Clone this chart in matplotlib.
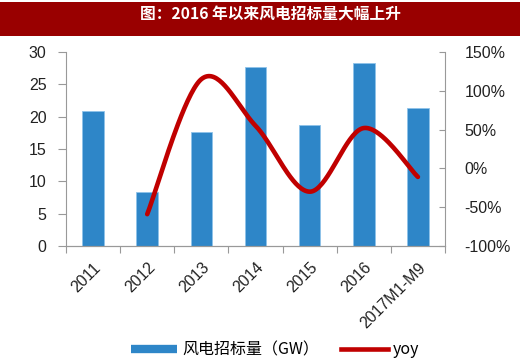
import numpy as np
import matplotlib
matplotlib.use("Agg")
import matplotlib.pyplot as plt
from matplotlib.lines import Line2D
from matplotlib.patches import Rectangle
from matplotlib.ticker import FuncFormatter, FixedLocator

plt.rcParams['font.family'] = ['Liberation Sans', 'Noto Sans CJK SC', 'DejaVu Sans']

categories = ["2011", "2012", "2013", "2014", "2015", "2016", "2017M1-M9"]
bid_gw = [20.9, 8.3, 17.6, 27.7, 18.7, 28.3, 21.3]
yoy_pct = [None, -59, 115, 55, -30, 52, -11]
left_ticks = [0, 5, 10, 15, 20, 25, 30]
right_ticks = [-100, -50, 0, 50, 100, 150]

title = "图：2016 年以来风电招标量大幅上升"
bar_label = "风电招标量（GW）"
line_label = "yoy"

W, H = 520, 363
fig = plt.figure(figsize=(W / 100, H / 100), dpi=100)
fig.patch.set_facecolor("white")

# title bar
fig.patches.append(Rectangle((0, 1 - 36 / H), 1, 34 / H, transform=fig.transFigure,
                             facecolor="#990000", edgecolor="none", zorder=0))
fig.text(270 / W, 1 - 15 / H, title, color="white", fontsize=11.3, fontweight="bold",
         ha="center", va="center", family=['Noto Sans CJK SC', 'DejaVu Sans'])

ax = fig.add_axes([66 / W, 1 - 246 / H, (445 - 66) / W, (246 - 52) / H])
ax2 = ax.twinx()

x = np.arange(len(categories))
bar_color = "#2E86C8"
ax.bar(x, bid_gw, width=0.4, color=bar_color, edgecolor="#8EC3EA", linewidth=0.6, zorder=2)
ax.set_xlim(-0.5, len(categories) - 0.5)
ax.set_ylim(0, 30)
ax.set_yticks(left_ticks)

# smoothed yoy line (Catmull-Rom through the data points)
px = np.array([i for i, v in enumerate(yoy_pct) if v is not None], dtype=float)
py = np.array([v for v in yoy_pct if v is not None], dtype=float)
sx, sy = [], []
n = len(px)
for i in range(n - 1):
    p0 = (px[i - 1], py[i - 1]) if i > 0 else (px[i], py[i])
    p1 = (px[i], py[i])
    p2 = (px[i + 1], py[i + 1])
    p3 = (px[i + 2], py[i + 2]) if i + 2 < n else (px[i + 1], py[i + 1])
    t = np.linspace(0, 1, 40)
    for k in range(2):
        a0, a1, a2, a3 = p0[k], p1[k], p2[k], p3[k]
        m1 = (a2 - a0) / 2
        m2 = (a3 - a1) / 2
        h00 = 2 * t**3 - 3 * t**2 + 1
        h10 = t**3 - 2 * t**2 + t
        h01 = -2 * t**3 + 3 * t**2
        h11 = t**3 - t**2
        val = h00 * a1 + h10 * m1 + h01 * a2 + h11 * m2
        (sx if k == 0 else sy).extend(val.tolist())
ax2.plot(sx, sy, color="#C00000", linewidth=3.3, solid_capstyle="round", zorder=3)
ax2.set_ylim(-100, 150)
ax2.set_yticks(right_ticks)
ax2.yaxis.set_major_formatter(FuncFormatter(lambda v, p: f"{int(v)}%"))

# x ticks: marks at boundaries, labels at centers
ax.set_xticks(x)
ax.set_xticklabels(categories, rotation=45, ha="right", rotation_mode="anchor")
ax.tick_params(axis="x", length=0, pad=10)
ax.xaxis.set_minor_locator(FixedLocator(np.arange(-0.5, len(categories), 1.0)))
ax.tick_params(axis="x", which="minor", length=5, color="#999999", width=0.8)

ax.tick_params(axis="y", length=6, color="#999999", width=0.8, pad=8)
ax2.tick_params(axis="y", length=4, direction="in", color="#999999", width=0.8, pad=14)

for lab in ax.get_xticklabels() + ax.get_yticklabels() + ax2.get_yticklabels():
    lab.set_fontfamily("Liberation Sans")
    lab.set_fontsize(11.5)
    lab.set_color("#222222")

for a in (ax, ax2):
    a.spines["top"].set_visible(False)
    for s in ("left", "right", "bottom"):
        a.spines[s].set_color("#999999")
        a.spines[s].set_linewidth(0.8)
ax2.spines["left"].set_visible(False)
ax.spines["right"].set_visible(False)
ax.set_facecolor("none")

handles = [Line2D([0], [0], color=bar_color, linewidth=6, solid_capstyle="butt"),
           Line2D([0], [0], color="#C00000", linewidth=3.3)]
fig.legend(handles, [bar_label, line_label], loc="center", ncol=2,
           bbox_to_anchor=(275 / W, 1 - 350 / H), frameon=False,
           handlelength=2.9, columnspacing=1.4, handletextpad=0.3,
           prop={'family': ['Noto Sans CJK SC', 'DejaVu Sans'], 'size': 11.5})

fig.savefig("out.png", dpi=100)
